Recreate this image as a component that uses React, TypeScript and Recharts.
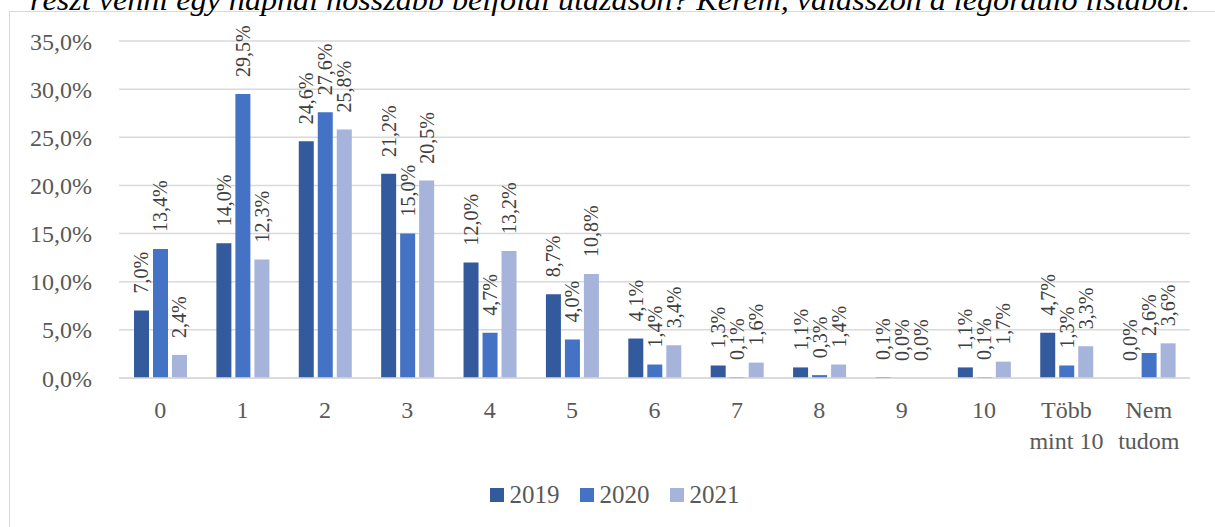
import React from 'react';
import { BarChart, Bar, XAxis, YAxis, CartesianGrid, Legend, LabelList } from 'recharts';

const categories = ['0', '1', '2', '3', '4', '5', '6', '7', '8', '9', '10', 'Több|mint 10', 'Nem|tudom'];
const values2019 = [7.0, 14.0, 24.6, 21.2, 12.0, 8.7, 4.1, 1.3, 1.1, 0.1, 1.1, 4.7, 0.0];
const values2020 = [13.4, 29.5, 27.6, 15.0, 4.7, 4.0, 1.4, 0.1, 0.3, 0.0, 0.1, 1.3, 2.6];
const values2021 = [2.4, 12.3, 25.8, 20.5, 13.2, 10.8, 3.4, 1.6, 1.4, 0.0, 1.7, 3.3, 3.6];
const yTicks = [0, 5, 10, 15, 20, 25, 30, 35];
const seriesNames = ['2019', '2020', '2021'];
const seriesColors = ['#345a9e', '#4472c4', '#a6b4db'];
const titleText = 'részt venni egy napnál hosszabb belföldi utazáson? Kérem, válasszon a legördülő listából.';

const data = categories.map((c, i) => ({
  cat: c,
  y2019: values2019[i],
  y2020: values2020[i],
  y2021: values2021[i],
}));

const FONT = '"Liberation Serif", "Times New Roman", serif';
const fmt = (v: number) => v.toFixed(1).replace('.', ',') + '%';

const RotLabel = (props: any) => {
  const { x, y, width, value } = props;
  const cx = Number(x) + Number(width) / 2;
  const ty = Number(y) - 17;
  return (
    <text
      x={cx}
      y={ty}
      transform={`rotate(-90 ${cx} ${ty})`}
      textAnchor="start"
      dominantBaseline="central"
      fontSize={20}
      fontFamily={FONT}
      fill="#404040"
    >
      {fmt(Number(value))}
    </text>
  );
};

const XTick = (props: any) => {
  const { x, y, payload } = props;
  const lines = String(payload.value).split('|');
  return (
    <text x={x} y={y} textAnchor="middle" fontSize={24} fontFamily={FONT} fill="#595959">
      {lines.map((l, i) => (
        <tspan key={i} x={x} y={Number(y) + 40 + i * 31}>
          {l}
        </tspan>
      ))}
    </text>
  );
};

const renderLegend = (props: any) => {
  const payload = props.payload || [];
  return (
    <div
      style={{
        height: 30,
        display: 'flex',
        justifyContent: 'center',
        alignItems: 'center',
        paddingLeft: 14,
        fontFamily: FONT,
        fontSize: 25,
        color: '#595959',
      }}
    >
      {payload.map((p: any, i: number) => (
        <span key={i} style={{ display: 'flex', alignItems: 'center', marginRight: i < payload.length - 1 ? 20 : 0 }}>
          <span style={{ width: 14, height: 14, background: p.color, marginRight: 6, display: 'inline-block' }} />
          {p.value}
        </span>
      ))}
    </div>
  );
};

export default function App() {
  return (
    <div style={{ position: 'fixed', left: 0, top: 0, width: 1215, height: 527, overflow: 'hidden', background: '#fff' }}>
      <div
        style={{
          position: 'absolute',
          left: 9,
          top: 11,
          width: 1400,
          height: 700,
          border: '1.5px solid #d9d9d9',
          boxSizing: 'border-box',
        }}
      />
      <svg width={1215} height={30} style={{ position: 'absolute', left: 0, top: 0 }}>
        <text
          x={30}
          y={10}
          fontStyle="italic"
          fontSize={29}
          fontFamily={FONT}
          fill="#000"
          textLength={1160}
          lengthAdjust="spacingAndGlyphs"
        >
          {titleText}
        </text>
      </svg>
      <div style={{ position: 'absolute', left: 0, top: 0 }}>
        <BarChart
          width={1215}
          height={527}
          data={data}
          margin={{ top: 41, right: 25, left: 0, bottom: 17 }}
          barSize={15}
          barGap={4}
        >
          <CartesianGrid vertical={false} stroke="#d9d9d9" strokeWidth={1.5} />
          <XAxis
            dataKey="cat"
            height={102}
            tick={<XTick />}
            tickLine={false}
            tickSize={0}
            tickMargin={0}
            axisLine={{ stroke: '#d9d9d9', strokeWidth: 1.5 }}
            interval={0}
          />
          <YAxis
            width={119}
            domain={[0, 35]}
            ticks={yTicks}
            tickFormatter={fmt}
            axisLine={false}
            tickLine={false}
            tickSize={0}
            tickMargin={27}
            tick={{ fontSize: 24, fontFamily: FONT, fill: '#595959' }}
          />
          <Legend verticalAlign="bottom" content={renderLegend} wrapperStyle={{ left: 0, width: 1215 }} />
          <Bar dataKey="y2019" name={seriesNames[0]} fill={seriesColors[0]} minPointSize={0.01} isAnimationActive={false}>
            <LabelList dataKey="y2019" content={<RotLabel />} />
          </Bar>
          <Bar dataKey="y2020" name={seriesNames[1]} fill={seriesColors[1]} minPointSize={0.01} isAnimationActive={false}>
            <LabelList dataKey="y2020" content={<RotLabel />} />
          </Bar>
          <Bar dataKey="y2021" name={seriesNames[2]} fill={seriesColors[2]} minPointSize={0.01} isAnimationActive={false}>
            <LabelList dataKey="y2021" content={<RotLabel />} />
          </Bar>
        </BarChart>
      </div>
    </div>
  );
}
